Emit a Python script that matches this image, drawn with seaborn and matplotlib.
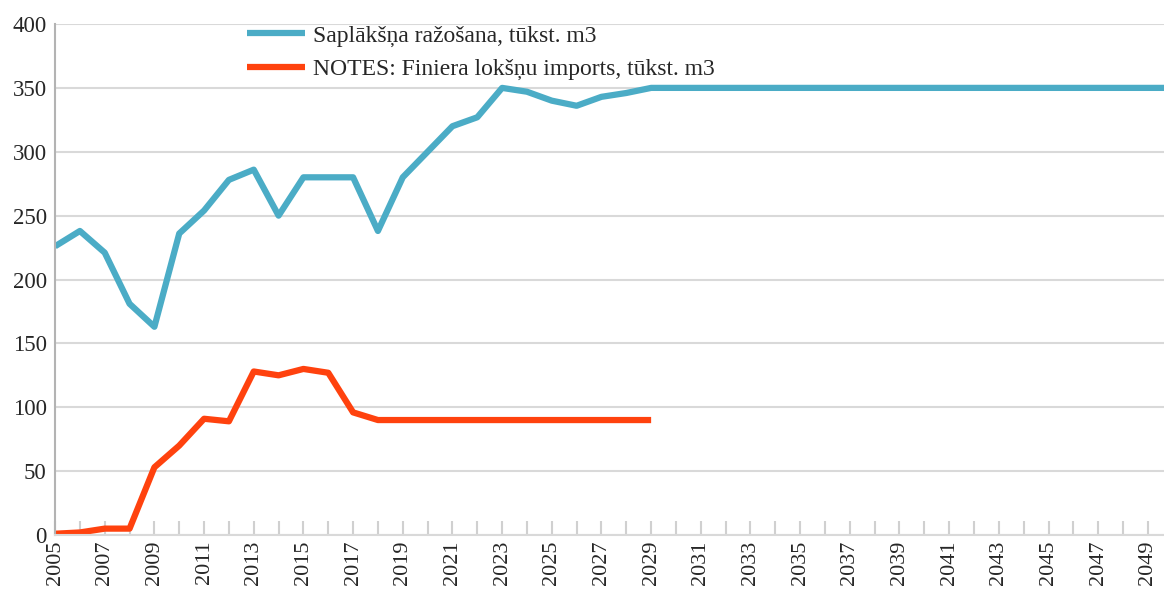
import numpy as np
import pandas as pd
import matplotlib
matplotlib.use("Agg")
import matplotlib.pyplot as plt
import seaborn as sns

years = list(range(2005, 2051))

# Saplākšņa ražošana (2005-2050)
production = [226, 238, 221, 181, 163, 236, 254, 278, 286, 250,
              280, 280, 280, 238, 280, 300, 320, 327, 350, 347,
              340, 336, 343, 346, 350] + [350] * 21

# Finiera lokšņu imports (2005-2029)
import_years = list(range(2005, 2030))
imports = [1, 2, 5, 5, 53, 70, 91, 89, 128, 125,
           130, 127, 96, 90, 90, 90, 90, 90, 90, 90,
           90, 90, 90, 90, 90]

label_prod = "Saplākšņa ražošana, tūkst. m3"
label_imp = "NOTES: Finiera lokšņu imports, tūkst. m3"

df = pd.concat([
    pd.DataFrame({"year": years, "value": production, "series": label_prod}),
    pd.DataFrame({"year": import_years, "value": imports, "series": label_imp}),
])

sns.set_style("white")
plt.rcParams["font.family"] = ["Liberation Serif", "DejaVu Serif"]

fig = plt.figure(figsize=(11.64, 5.90), dpi=100)
ax = fig.add_axes([0.0473, 0.0932, 0.9527, 0.8661])

sns.lineplot(data=df, x="year", y="value", hue="series",
             palette=["#4bacc6", "#ff420e"], linewidth=4.5,
             ax=ax, solid_capstyle="butt")

ax.set_xlim(2005, 2049.65)
ax.set_ylim(0, 400)
ax.set_yticks(np.arange(0, 401, 50))
ax.set_xticks(years[:-1])
ax.set_xticklabels([str(y) if (y - 2005) % 2 == 0 else "" for y in years[:-1]],
                   rotation=90)
# seaborn's white style switches the bottom ticks off
ax.tick_params(axis="x", bottom=True, direction="in", length=10, width=1.5,
               color="#d0d0d0", labelsize=16, pad=4)
ax.tick_params(axis="y", length=0, labelsize=16.5, pad=6)
ax.yaxis.grid(True, color="#d9d9d9", linewidth=1.5)
ax.set_axisbelow(True)
ax.set_xlabel("")
ax.set_ylabel("")

for side in ["top", "right"]:
    ax.spines[side].set_visible(False)
ax.spines["left"].set_color("#b3b3b3")
ax.spines["left"].set_linewidth(1.5)
ax.spines["bottom"].set_color("#d9d9d9")
ax.spines["bottom"].set_linewidth(1.5)

handles, labels = ax.get_legend_handles_labels()
ax.legend(handles, labels, loc="upper left", bbox_to_anchor=(0.173, 0.998),
          frameon=False, fontsize=17, handlelength=2.45, labelspacing=0.5,
          handletextpad=0.35, borderpad=0, borderaxespad=0)

fig.savefig("out.png", dpi=100)
